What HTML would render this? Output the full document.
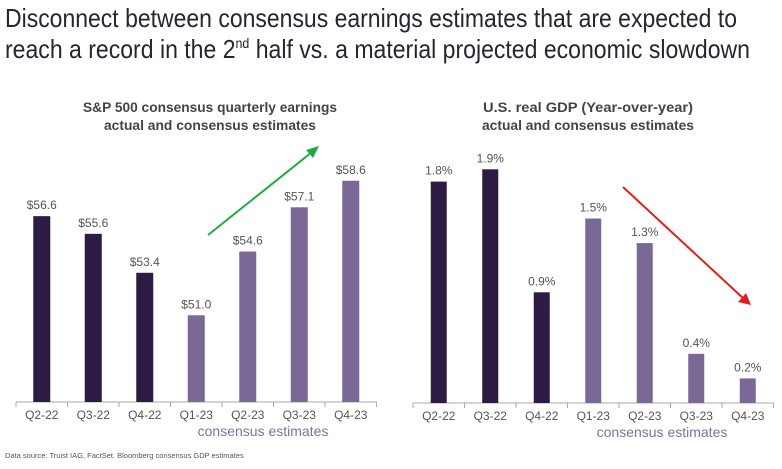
<!DOCTYPE html>
<html><head><meta charset="utf-8"><style>
body{margin:0;background:#fff;}
svg{display:block;font-family:"Liberation Sans",Arial,sans-serif;}
</style></head><body>
<svg id="c" width="782" height="469" viewBox="0 0 782 469" xmlns="http://www.w3.org/2000/svg">
<text x="5" y="27" font-size="26" fill="#2b2233" textLength="732" lengthAdjust="spacingAndGlyphs">Disconnect between consensus earnings estimates that are expected to</text>
<text x="5" y="58" font-size="26" fill="#2b2233" textLength="745" lengthAdjust="spacingAndGlyphs">reach a record in the 2<tspan font-size="14" dy="-10">nd</tspan><tspan dy="10"> half vs. a material projected economic slowdown</tspan></text>
<text x="210" y="112" font-size="13.5" font-weight="bold" fill="#444" text-anchor="middle" textLength="254" lengthAdjust="spacingAndGlyphs">S&amp;P 500 consensus quarterly earnings</text>
<text x="210" y="130" font-size="13.5" font-weight="bold" fill="#444" text-anchor="middle" textLength="212" lengthAdjust="spacingAndGlyphs">actual and consensus estimates</text>
<text x="588" y="112" font-size="13.5" font-weight="bold" fill="#444" text-anchor="middle" textLength="210" lengthAdjust="spacingAndGlyphs">U.S. real GDP  (Year-over-year)</text>
<text x="588" y="130" font-size="13.5" font-weight="bold" fill="#444" text-anchor="middle" textLength="212" lengthAdjust="spacingAndGlyphs">actual and consensus estimates</text>
<g id="left"></g>
<g id="right"></g>
<line x1="208" y1="235" x2="312" y2="152" stroke="#1faa44" stroke-width="2"/>
<polygon points="319,146 306,150 313,158" fill="#1faa44"/>
<line x1="623" y1="187" x2="744" y2="299" stroke="#e02020" stroke-width="2"/>
<polygon points="751,305 738,302 746,293" fill="#e02020"/>
<text x="5" y="458" font-size="7.5" fill="#555">Data source: Truist IAG, FactSet. Bloomberg consensus GDP estimates</text>
</svg>
<script>
const categories = ["Q2-22","Q3-22","Q4-22","Q1-23","Q2-23","Q3-23","Q4-23"];
const earnings = [56.6, 55.6, 53.4, 51.0, 54.6, 57.1, 58.6];
const earningsLabels = ["$56.6","$55.6","$53.4","$51.0","$54.6","$57.1","$58.6"];
const gdp = [1.8, 1.9, 0.9, 1.5, 1.3, 0.4, 0.2];
const gdpLabels = ["1.8%","1.9%","0.9%","1.5%","1.3%","0.4%","0.2%"];
const actualCount = 3;
const NS = "http://www.w3.org/2000/svg";
function mk(tag, attrs, parent){const e=document.createElementNS(NS,tag);for(const k in attrs)e.setAttribute(k,attrs[k]);parent.appendChild(e);return e;}
function drawChart(g, values, labels, cfg){
  const x = i => cfg.x0 + cfg.step*(i+0.5);
  const y = v => cfg.base - (v - cfg.vmin)*cfg.scale;
  const axis = mk("line",{x1:cfg.x0,y1:cfg.base,x2:cfg.x0+cfg.step*categories.length,y2:cfg.base,stroke:"#aaa","stroke-width":1},g);
  
  
  for(let i=0;i<=categories.length;i++){
    const t = mk("line",{x1:cfg.x0+cfg.step*i,y1:cfg.base,x2:cfg.x0+cfg.step*i,y2:cfg.base+5,stroke:"#aaa"},g);
    
    
  }
  values.forEach((v,i)=>{
    const top=y(v);
    const r = mk("rect",{x:x(i)-cfg.bw/2,y:top,width:cfg.bw,height:cfg.base-top,fill:i<actualCount?"#2d1b45":"#7a6896"},g);
    
    
    const l = mk("text",{x:x(i),y:top-7,"font-size":12,fill:"#555","text-anchor":"middle"},g);
    l.textContent=labels[i];
    
    
    const c = mk("text",{x:x(i),y:cfg.base+17,"font-size":12,fill:"#555","text-anchor":"middle"},g);
    c.textContent=categories[i];
    
    
  });
  const ce = mk("text",{x:cfg.ceX,y:cfg.base+34,"font-size":14,fill:"#8070a0","text-anchor":"middle"},g);
  ce.textContent="consensus estimates";
  
  
}
drawChart(document.getElementById("left"), earnings, earningsLabels, {x0:16,step:51.5,base:402,vmin:46.1,scale:17.7,bw:17,ceX:263});
drawChart(document.getElementById("right"), gdp, gdpLabels, {x0:413,step:51.5,base:403,vmin:0,scale:123,bw:16,ceX:662});
</script>
</body></html>
